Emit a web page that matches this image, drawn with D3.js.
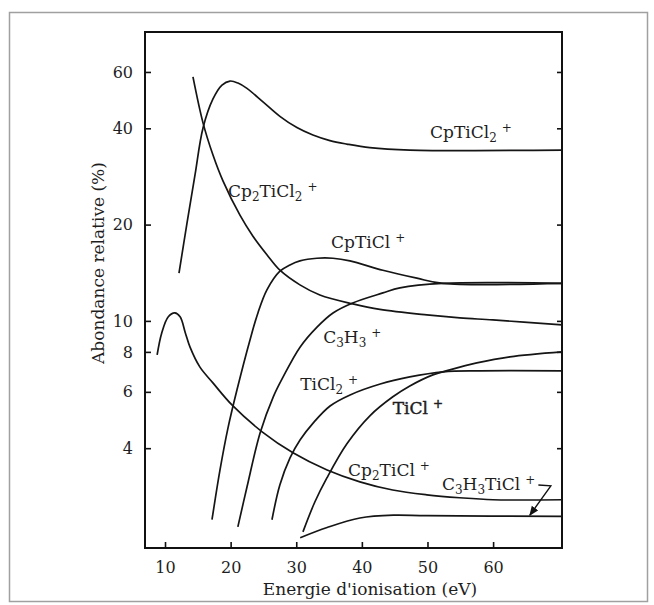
<!DOCTYPE html>
<html>
<head>
<meta charset="utf-8">
<script src="https://cdn.jsdelivr.net/npm/d3@7"></script>
<style>
  body { margin: 0; background: #fff; }
  svg text { font-family: "DejaVu Serif", serif; fill: #1e1e1e; }
</style>
</head>
<body>
<svg id="chart"></svg>
<script>
// tick values
const xTicks = [10, 20, 30, 40, 50, 60];
const yTicks = [4, 6, 8, 10, 20, 40, 60];

// energie (eV) / abondance (%) for each ion
const cpTiCl2_e = [12.13, 13.35, 14.57, 15.79, 17.31, 18.68, 19.9, 21.12, 22.49, 24.93, 27.51, 30.1, 32.54, 35.13, 37.72, 41.22, 47.31, 70.5];
const cpTiCl2_a = [14.1, 20.2, 28.6, 40.1, 49.4, 54.6, 56.2, 55.4, 53.3, 48.4, 43.6, 40.2, 38.1, 36.6, 35.7, 34.8, 34.2, 34.2];

const cp2TiCl2_e = [14.26, 15.79, 17.31, 18.83, 21.42, 23.4, 25.53, 27.51, 30.56, 33.6, 38.63, 42.74, 49.9, 54.93, 59.95, 70.5];
const cp2TiCl2_a = [57.9, 41.6, 33.0, 27.4, 21.4, 18.4, 16.1, 14.4, 12.96, 12.05, 11.3, 10.86, 10.44, 10.22, 10.07, 9.72];

const cpTiCl_e = [17.16, 18.38, 19.6, 20.97, 22.95, 24.16, 25.53, 27.51, 29.04, 30.56, 33.15, 35.59, 38.18, 43.2, 48.38, 52.34, 70.5];
const cpTiCl_a = [2.39, 3.42, 4.63, 6.09, 8.72, 10.59, 12.5, 14.3, 14.96, 15.4, 15.7, 15.7, 15.4, 14.4, 13.6, 13.1, 13.1];

const c3h3_e = [21.1, 22.5, 24.5, 26.5, 28.0, 30.6, 33.2, 35.6, 38.6, 43.2, 45.8, 52.3, 70.5];
const c3h3_a = [2.27, 3.03, 4.47, 5.79, 6.68, 8.29, 9.58, 10.59, 11.38, 12.23, 12.68, 13.1, 13.1];

const tiCl2_e = [26.3, 27.5, 29.05, 30.6, 32.6, 35.15, 38.2, 42.8, 47.3, 52.4, 58.0, 70.5];
const tiCl2_a = [2.39, 3.07, 3.73, 4.25, 4.80, 5.42, 5.87, 6.35, 6.68, 6.93, 6.98, 6.98];

const tiCl_e = [31.02, 32.85, 34.67, 37.72, 41.22, 44.72, 47.31, 50.82, 53.4, 57.52, 62.55, 70.5];
const tiCl_a = [2.19, 2.72, 3.23, 4.13, 5.05, 5.79, 6.26, 6.78, 7.03, 7.39, 7.72, 8.0];

const cp2TiCl_e = [8.8, 9.5, 10.5, 11.5, 12.3, 13.1, 13.8, 15.3, 17.3, 20.2, 24.8, 29.5, 34.7, 39.7, 44.7, 49.9, 54.9, 60.0, 70.5];
const cp2TiCl_a = [7.83, 9.17, 10.3, 10.59, 10.3, 9.17, 8.29, 7.18, 6.40, 5.46, 4.50, 3.87, 3.42, 3.14, 2.96, 2.86, 2.80, 2.76, 2.76];

const c3h3TiCl_e = [30.6, 34.7, 39.7, 44.8, 49.9, 70.5];
const c3h3TiCl_a = [2.10, 2.26, 2.42, 2.47, 2.46, 2.45];

// labels: "_" = indice, "^" = exposant, anchored at (energie, abondance)
const labelText = ["CpTiCl_2^+", "Cp_2TiCl_2^+", "CpTiCl^+", "C_3H_3^+", "TiCl_2^+", "TiCl^+", "Cp_2TiCl^+", "C_3H_3TiCl^+"];
const labelE = [50.4, 19.6, 35.3, 34.1, 30.6, 44.7, 37.9, 52.2];
const labelA = [37.3, 24.4, 16.9, 8.54, 6.09, 5.12, 3.28, 2.97];

// arrow from the C3H3TiCl+ label down to its curve
const arrowE = [66.9, 68.8, 65.6];
const arrowA = [3.07, 3.05, 2.47];

class IonChart {

  constructor(config) {
    this.config = {
      parent: config.parent,
      width: config.width || 654,
      height: config.height || 605,
      margin: config.margin || {top: 32, right: 92, bottom: 57, left: 145},
    }
    this.init()
  }

  init() {
    let self = this

    self.svg = d3.select(self.config.parent)
      .attr("width", self.config.width)
      .attr("height", self.config.height);

    // outer frame of the figure
    self.svg.append("rect")
      .attr("x", 9.5).attr("y", 12.5)
      .attr("width", 638).attr("height", 589)
      .attr("fill", "none")
      .attr("stroke", "#a0a0a0")
      .attr("stroke-width", 1.5);

    self.chart = self.svg.append("g")
      .attr("transform", "translate(" + self.config.margin.left + "," + self.config.margin.top + ")");

    self.chart_width = self.config.width - self.config.margin.left - self.config.margin.right
    self.chart_height = self.config.height - self.config.margin.top - self.config.margin.bottom;

    self.x_scale = d3.scaleLinear()
      .domain([6.95, 70.5])
      .range([0, self.chart_width]);

    self.y_scale = d3.scaleLog()
      .domain([1.95, 80])
      .range([self.chart_height, 0]);

    self.line = d3.line()
      .x(d => self.x_scale(d[0]))
      .y(d => self.y_scale(d[1]))
      .curve(d3.curveCatmullRom.alpha(0.5));
  }

  render(series) {
    let self = this
    const w = self.chart_width, h = self.chart_height;

    // bottom axis, ticks pointing inward
    self.chart.append("g")
      .attr("transform", "translate(0," + h + ")")
      .call(d3.axisBottom(self.x_scale).tickValues(xTicks).tickSize(-6).tickPadding(14).tickSizeOuter(0))
      .call(g => g.select(".domain").remove())
      .call(g => g.selectAll("line").attr("stroke", "#111").attr("stroke-width", 1.6))
      .call(g => g.selectAll("text").attr("font-size", 16).attr("font-family", "DejaVu Serif").attr("fill", "#333"));

    // left axis
    self.chart.append("g")
      .call(d3.axisLeft(self.y_scale).tickValues(yTicks).tickFormat(d3.format("d")).tickSize(-6).tickPadding(12).tickSizeOuter(0))
      .call(g => g.select(".domain").remove())
      .call(g => g.selectAll("line").attr("stroke", "#111").attr("stroke-width", 1.6))
      .call(g => g.selectAll("text").attr("font-size", 16).attr("font-family", "DejaVu Serif").attr("fill", "#333"));

    // right axis: small inward ticks, no labels
    self.chart.append("g")
      .attr("transform", "translate(" + w + ",0)")
      .call(d3.axisRight(self.y_scale).tickValues(yTicks).tickFormat("").tickSize(-5).tickSizeOuter(0))
      .call(g => g.select(".domain").remove())
      .call(g => g.selectAll("line").attr("stroke", "#111").attr("stroke-width", 1.6));

    // plot frame
    self.chart.append("rect")
      .attr("width", w).attr("height", h)
      .attr("fill", "none")
      .attr("stroke", "#111")
      .attr("stroke-width", 2);

    // curves
    self.chart.selectAll("path.ion")
      .data(series)
      .enter().append("path")
      .attr("class", "ion")
      .attr("d", d => self.line(d3.zip(d.e, d.a)))
      .attr("fill", "none")
      .attr("stroke", "#151515")
      .attr("stroke-width", 1.7);

    // labels with sub/superscripts
    labelText.forEach((txt, i) => {
      const t = self.chart.append("text")
        .attr("x", self.x_scale(labelE[i]))
        .attr("y", self.y_scale(labelA[i]))
        .attr("font-size", 17);
      if (txt === "TiCl^+") t.attr("stroke", "#1e1e1e").attr("stroke-width", 0.45);
      const parts = txt.match(/_\d|\^\+|[^_^]+/g);
      let shift = 0;
      parts.forEach(p => {
        if (p[0] === "_") {
          t.append("tspan").attr("font-size", 12).attr("dy", 4 - shift).text(p[1]);
          shift = 4;
        } else if (p[0] === "^") {
          t.append("tspan").attr("font-size", 12).attr("dx", 5).attr("dy", -6 - shift).text(p[1]);
          shift = -6;
        } else {
          t.append("tspan").attr("dy", -shift).text(p);
          shift = 0;
        }
      });
    });

    // arrow to C3H3TiCl+
    self.svg.append("defs").append("marker")
      .attr("id", "head")
      .attr("viewBox", "0 0 10 10")
      .attr("refX", 9).attr("refY", 5)
      .attr("markerWidth", 7).attr("markerHeight", 7)
      .attr("orient", "auto")
      .append("path").attr("d", "M0,1L10,5L0,9z").attr("fill", "#111");

    self.chart.append("path")
      .attr("d", d3.line()(d3.zip(arrowE, arrowA).map(d => [self.x_scale(d[0]), self.y_scale(d[1])])))
      .attr("fill", "none")
      .attr("stroke", "#111")
      .attr("stroke-width", 1.4)
      .attr("marker-end", "url(#head)");

    // axis titles
    self.svg.append("text")
      .attr("x", 370)
      .attr("y", 595)
      .attr("text-anchor", "middle")
      .attr("font-size", 17)
      .text("Energie d'ionisation (eV)");

    self.svg.append("text")
      .attr("transform", "translate(104,263) rotate(-90)")
      .attr("text-anchor", "middle")
      .attr("font-size", 17)
      .text("Abondance relative (%)");
  }
}

const series = [
  {e: cpTiCl2_e, a: cpTiCl2_a},
  {e: cp2TiCl2_e, a: cp2TiCl2_a},
  {e: cpTiCl_e, a: cpTiCl_a},
  {e: c3h3_e, a: c3h3_a},
  {e: tiCl2_e, a: tiCl2_a},
  {e: tiCl_e, a: tiCl_a},
  {e: cp2TiCl_e, a: cp2TiCl_a},
  {e: c3h3TiCl_e, a: c3h3TiCl_a},
];

const chart = new IonChart({parent: "#chart"});
chart.render(series);
</script>
</body>
</html>
